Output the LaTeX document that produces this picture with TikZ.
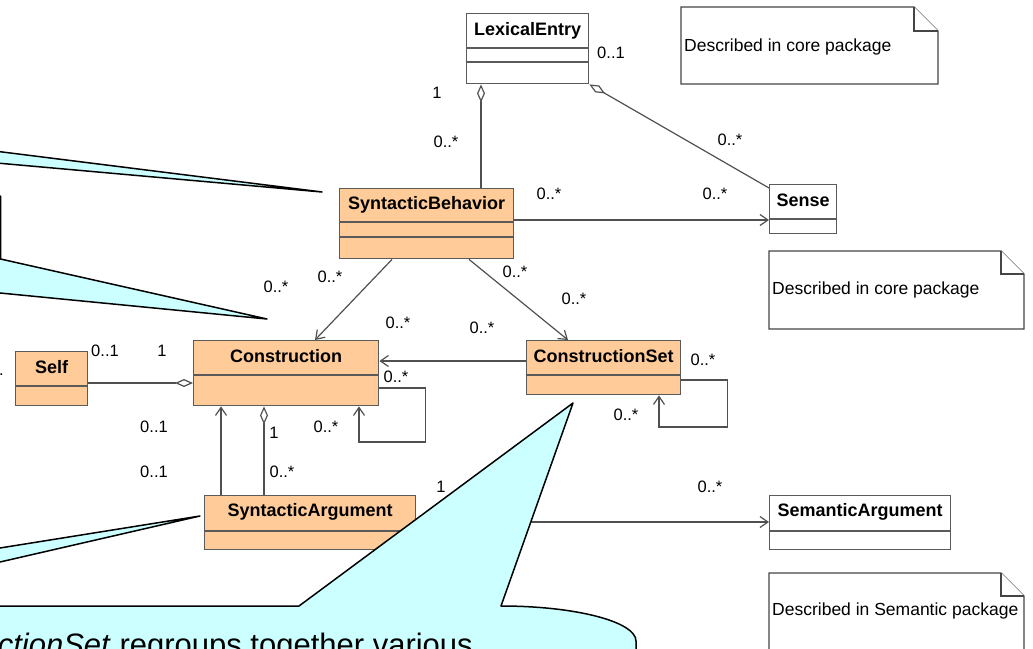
\documentclass[tikz,border=0pt]{standalone}
\usepackage{fontspec}
\setmainfont{Liberation Sans}
\usetikzlibrary{arrows.meta,calc}
\definecolor{clsfill}{HTML}{FFCC99}
\definecolor{clsdraw}{HTML}{5A5A5A}
\definecolor{linkcol}{HTML}{505050}
\definecolor{notedraw}{HTML}{454545}
\definecolor{callfill}{HTML}{CCFFFF}

\begin{document}
\begin{tikzpicture}[x=1pt,y=-1pt,
  clsbox/.style={draw=clsdraw, fill=clsfill, line width=1.4pt, inner sep=0pt, anchor=north west},
  plainbox/.style={draw=clsdraw, fill=white, line width=1.4pt, inner sep=0pt, anchor=north west},
  sep/.style={draw=clsdraw, line width=1.4pt},
  clsname/.style={font=\fontsize{18}{20}\selectfont\bfseries, inner sep=0pt},
  mult/.style={font=\fontsize{16.5}{18}\selectfont, inner sep=0pt},
  notebody/.style={draw=notedraw, fill=white, line width=1.3pt, line join=miter},
  notetext/.style={font=\fontsize{17.5}{20}\selectfont, inner sep=0pt, anchor=west},
  link/.style={draw=linkcol, line width=1.2pt},
  nav/.style={link, -{Straight Barb[length=8pt,width=11pt,line width=1.2pt]}},
  aggstart/.style={link, {Diamond[open,length=18pt,width=8pt,line width=1.2pt]}-},
  aggend/.style={link, -{Diamond[open,length=18pt,width=8pt,line width=1.2pt]}},
  callout/.style={fill=callfill, draw=black, line width=1.5pt, line join=round}
]
\useasboundingbox (0,0) rectangle (1033,648);
\clip (0,0) rectangle (1033,648);

% ---------- notes ----------
\draw[notebody] (681,7) -- (914,7) -- (938,31) -- (938,84) -- (681,84) -- cycle;
\draw[notebody] (914,7) -- (914,31) -- (938,31);
\node[notetext] (note1) at (684,47) {Described in core package};

\draw[notebody] (769,251) -- (1001,251) -- (1024,274) -- (1024,329) -- (769,329) -- cycle;
\draw[notebody] (1001,251) -- (1001,274) -- (1024,274);
\node[notetext] (note2) at (772,290) {Described in core package};

\draw[notebody] (769,573) -- (1001,573) -- (1024,596) -- (1024,660) -- (769,660) -- cycle;
\draw[notebody] (1001,573) -- (1001,596) -- (1024,596);
\node[notetext] (note3) at (772,611) {Described in Semantic package};

% ---------- classes ----------
\node[plainbox, minimum width=122pt, minimum height=70pt] (lex) at (466,13) {};
\draw[sep] ([yshift=-35pt]lex.north west) -- ([yshift=-35pt]lex.north east);
\draw[sep] ([yshift=-49pt]lex.north west) -- ([yshift=-49pt]lex.north east);
\node[clsname] (lexn) at ([yshift=-17.5pt]lex.north) {LexicalEntry};

\node[plainbox, minimum width=67pt, minimum height=49pt] (sense) at (769,184) {};
\draw[sep] ([yshift=-35pt]sense.north west) -- ([yshift=-35pt]sense.north east);
\node[clsname] (sensen) at ([yshift=-16.5pt]sense.north) {Sense};

\node[plainbox, minimum width=181pt, minimum height=54pt] (semarg) at (769,495) {};
\draw[sep] ([yshift=-36pt]semarg.north west) -- ([yshift=-36pt]semarg.north east);
\node[clsname] (semargn) at ([yshift=-17pt]semarg.north) {SemanticArgument};

\node[clsbox, minimum width=174pt, minimum height=70pt] (sb) at (339,188) {};
\draw[sep] ([yshift=-34pt]sb.north west) -- ([yshift=-34pt]sb.north east);
\draw[sep] ([yshift=-49pt]sb.north west) -- ([yshift=-49pt]sb.north east);
\node[clsname] (sbn) at ([yshift=-16.5pt]sb.north) {SyntacticBehavior};

\node[clsbox, minimum width=185pt, minimum height=65pt] (cons) at (193,340) {};
\draw[sep] ([yshift=-35pt]cons.north west) -- ([yshift=-35pt]cons.north east);
\node[clsname] (consn) at ([yshift=-16.5pt]cons.north) {Construction};

\node[clsbox, minimum width=154pt, minimum height=54pt] (cset) at (526,340) {};
\draw[sep] ([yshift=-35pt]cset.north west) -- ([yshift=-35pt]cset.north east);
\node[clsname] (csetn) at ([yshift=-16.5pt]cset.north) {ConstructionSet};

\node[clsbox, minimum width=72pt, minimum height=54pt] (self) at (15,351) {};
\draw[sep] ([yshift=-35pt]self.north west) -- ([yshift=-35pt]self.north east);
\node[clsname] (selfn) at ([yshift=-16.5pt]self.north) {Self};

\node[clsbox, minimum width=211pt, minimum height=54pt] (sa) at (204,495) {};
\draw[sep] ([yshift=-36pt]sa.north west) -- ([yshift=-36pt]sa.north east);
\node[clsname] (san) at ([yshift=-17pt]sa.north) {SyntacticArgument};

% ---------- connectors ----------
\draw[aggstart] ([xshift=15pt]lex.south west) -- ([xshift=15pt]lex.south west |- sb.north);
\draw[aggstart] (lex.south east) -- ([yshift=-4pt]sense.north west);
\draw[nav] ([yshift=-32pt]sb.north east) coordinate (sbr) -- (sbr -| sense.west);
\draw[nav] ([xshift=53pt]sb.south west) -- ([xshift=122pt]cons.north west);
\draw[nav] ([xshift=130pt]sb.south west) -- ([xshift=42pt]cset.north west);
\draw[nav] ([yshift=-21pt]cset.north west) coordinate (csl) -- (csl -| cons.east);
\draw[nav] ([yshift=-48pt]cons.north east) -- ++(46,0) -- ++(0,54) -| ([xshift=166pt]cons.south west);
\draw[nav] ([yshift=-40pt]cset.north east) -- ++(46,0) -- ++(0,47) -| ([xshift=133pt]cset.south west);
\draw[aggend] ([yshift=-32pt]self.north east) coordinate (sfr) -- (sfr -| cons.west);
\draw[nav] ([xshift=17pt]sa.north west) coordinate (sal) -- (sal |- cons.south);
\draw[aggstart] ([xshift=60pt]sa.north west |- cons.south) -- ([xshift=60pt]sa.north west);
\draw[nav] ([yshift=-27pt]sa.north east) coordinate (sar) -- (sar -| semarg.west);

% ---------- multiplicities ----------
\node[mult] (m1) at (611,53) {0..1};
\node[mult] (m2) at (437,93) {1};
\node[mult] (m3) at (446,142) {0..*};
\node[mult] (m4) at (730,140) {0..*};
\node[mult] (m5) at (549,194) {0..*};
\node[mult] (m6) at (715,194) {0..*};
\node[mult] (m7) at (276,287) {0..*};
\node[mult] (m8) at (330,277) {0..*};
\node[mult] (m9) at (515,272) {0..*};
\node[mult] (m10) at (574,299) {0..*};
\node[mult] (m11) at (398,323) {0..*};
\node[mult] (m12) at (482,328) {0..*};
\node[mult] (m13) at (105,351) {0..1};
\node[mult] (m14) at (162,351) {1};
\node[mult] (m15) at (396,377) {0..*};
\node[mult] (m16) at (326,427) {0..*};
\node[mult] (m17) at (154,427) {0..1};
\node[mult] (m18) at (274,433) {1};
\node[mult] (m19) at (154,472) {0..1};
\node[mult] (m20) at (282,472) {0..*};
\node[mult] (m21) at (441,487) {1};
\node[mult] (m22) at (703,360) {0..*};
\node[mult] (m23) at (626,415) {0..*};
\node[mult] (m24) at (710,487) {0..*};
\node[mult, anchor=base east] (dot) at (4,375) {.};

% ---------- comment callouts ----------
\draw[callout] (-20,149.2) -- (322,192) -- (-20,161.5) -- cycle;
\draw[callout] (-40,196) -- (0.5,196) -- (0.5,259) -- (267,319) -- (-40,289.1) -- cycle;
\draw[callout] (-20,551.2) -- (200,516) -- (-20,566.6) -- cycle;
\draw[callout] (-200,606) -- (299,606) -- (573,403) -- (501,606)
  .. controls (575.6,606) and (636,621.7) .. (636,641) -- (636,700) -- (-200,700) -- cycle;
\node[font=\fontsize{31}{36}\selectfont, inner sep=0pt, anchor=base east] (calltext)
  at (473,655) {\textit{ConstructionSet} regroups together various};
\end{tikzpicture}
\end{document}
